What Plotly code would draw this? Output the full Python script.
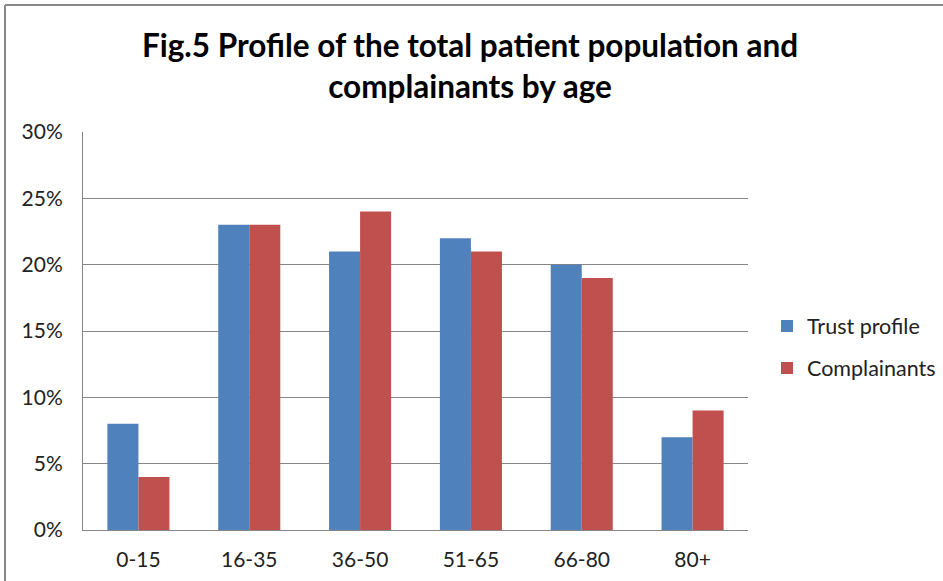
import plotly.graph_objects as go

categories = ["0-15", "16-35", "36-50", "51-65", "66-80", "80+"]
trust_profile = [0.08, 0.23, 0.21, 0.22, 0.20, 0.07]
complainants = [0.04, 0.23, 0.24, 0.21, 0.19, 0.09]
y_ticks = [0, 0.05, 0.10, 0.15, 0.20, 0.25, 0.30]
y_tick_labels = ["0%", "5%", "10%", "15%", "20%", "25%", "30%"]

FONT = "Lato, 'Open Sans', sans-serif"
W, H = 943, 581
L, R, T, B = 83, 195, 132, 51
PW, PH = W - L - R, H - T - B

def px_x(p):
    return (p - L) / PW

def px_y(p):
    return (H - B - p) / PH

fig = go.Figure()
fig.add_trace(go.Bar(name="Trust profile", x=categories, y=trust_profile,
                     legendgroup="a",
                     marker=dict(color="#4F81BD", line=dict(width=0))))
fig.add_trace(go.Bar(name="Complainants", x=categories, y=complainants,
                     legendgroup="b",
                     marker=dict(color="#C0504D", line=dict(width=0))))

fig.update_layout(
    template="none",
    width=W, height=H,
    margin=dict(l=L, r=R, t=T, b=B, autoexpand=False),
    paper_bgcolor="white", plot_bgcolor="white",
    barmode="group", bargap=0.44, bargroupgap=0,
    title=dict(text="<b>Fig.5 Profile of the total patient population and<br>complainants by age</b>",
               x=470 / W, xanchor="center", y=(H - 57) / H, yanchor="top",
               font=dict(family=FONT, size=31.5, color="black")),
    font=dict(family=FONT, size=21, color="#222"),
    showlegend=True,
    legend=dict(x=px_x(767), xanchor="left", y=px_y(347), yanchor="middle",
                font=dict(family=FONT, size=21.5, color="#222"),
                itemwidth=30, tracegroupgap=11, bgcolor="rgba(0,0,0,0)",
                traceorder="grouped"),
    xaxis=dict(showline=True, linecolor="#868686", linewidth=1,
               ticks="outside", ticklen=11, tickcolor="rgba(0,0,0,0)",
               tickfont=dict(family=FONT, size=21, color="#222"),
               showgrid=False, automargin=False),
    yaxis=dict(range=[0, 0.30], tickvals=y_ticks, ticktext=y_tick_labels,
               showline=True, linecolor="#868686", linewidth=1,
               showgrid=True, gridcolor="#868686", gridwidth=1,
               ticks="outside", ticklen=15, tickcolor="rgba(0,0,0,0)",
               tickfont=dict(family=FONT, size=21, color="#222"),
               zeroline=False, automargin=False),
)

# chart frame (left and top edges visible in the reference)
fig.add_shape(type="line", xref="paper", yref="paper",
              x0=px_x(5), x1=px_x(5), y0=px_y(600), y1=px_y(5),
              line=dict(color="#888888", width=2))
fig.add_shape(type="line", xref="paper", yref="paper",
              x0=px_x(5), x1=px_x(960), y0=px_y(5), y1=px_y(5),
              line=dict(color="#888888", width=2))

fig.write_html("out.html",
               config={"displayModeBar": False},
               post_script="document.body.style.margin='0';document.body.style.overflow='hidden';")
